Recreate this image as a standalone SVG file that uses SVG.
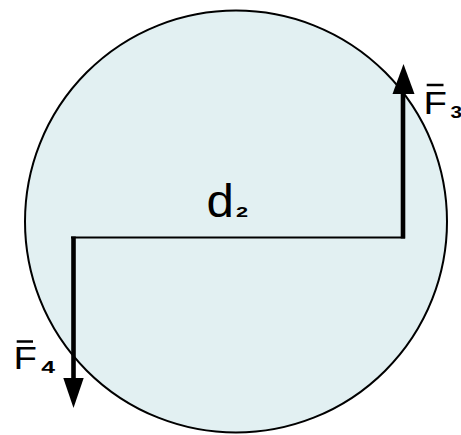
<svg xmlns="http://www.w3.org/2000/svg" width="461" height="435" viewBox="0 0 461 435">
<style>
.lbl{font-family:"Liberation Sans",Arial,sans-serif;fill:#000}
.sub{font-family:"Liberation Sans",Arial,sans-serif;font-weight:bold;fill:#000}
.bar{stroke:#000;stroke-width:2.5}
.shaft{stroke:#000;stroke-width:4.6;fill:none}
.head{fill:#000}
</style>
<rect width="461" height="435" fill="#fff"/>
<g id="disc">
<circle cx="236" cy="221.5" r="211" fill="#e2f0f2" stroke="#000" stroke-width="2"/>
</g>
<g id="connectors">
<line x1="71" y1="237.6" x2="405" y2="237.6" stroke="#000" stroke-width="2"/>
<line class="shaft" x1="403" y1="238.5" x2="403" y2="92"/>
<polygon class="head" points="403.5,64 392.5,94 414.5,94"/>
<line class="shaft" x1="73.5" y1="236.6" x2="73.5" y2="380"/>
<polygon class="head" points="63.3,378 83.7,378 73.5,408"/>
</g>
<g id="label-d2">
<text class="lbl" font-size="46" transform="translate(206.6,216.7) scale(1.07,1)">d</text>
<text class="sub" font-size="15" transform="translate(236,216.7) scale(1.45,1)">2</text>
</g>
<g id="label-F3">
<line class="bar" x1="426.7" y1="85" x2="443.5" y2="85"/>
<text class="lbl" font-size="31" transform="translate(423.5,114) scale(1.24,1)">F</text>
<text class="sub" font-size="16" transform="translate(450.5,118) scale(1.3,1)">3</text>
</g>
<g id="label-F4">
<line class="bar" x1="16.7" y1="341.5" x2="33" y2="341.5"/>
<text class="lbl" font-size="31" transform="translate(13.5,369) scale(1.24,1)">F</text>
<text class="sub" font-size="16" transform="translate(41.2,373) scale(1.55,1)">4</text>
</g>
</svg>
